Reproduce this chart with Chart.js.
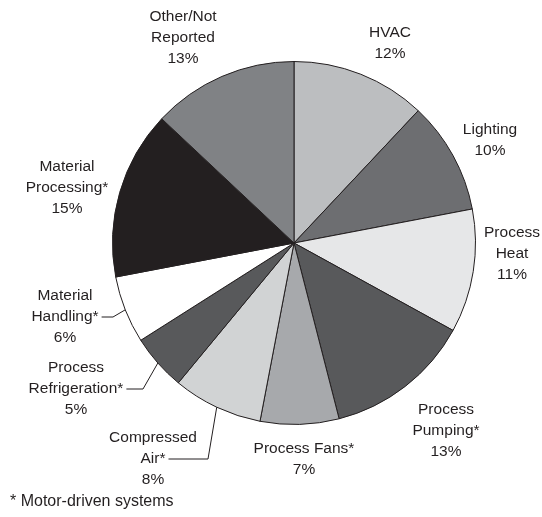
<!DOCTYPE html>
<html>
<head>
<meta charset="utf-8">
<script src="https://cdn.jsdelivr.net/npm/chart.js@4"></script>
<style>
  html, body { margin: 0; padding: 0; background: #fff; }
  #box { width: 542px; height: 517px; }
</style>
</head>
<body>
<div id="box"><canvas id="grafico" width="542" height="517"></canvas></div>
<script>
const categorias = ['HVAC', 'Lighting', 'Process Heat', 'Process Pumping*', 'Process Fans*',
  'Compressed Air*', 'Process Refrigeration*', 'Material Handling*', 'Material Processing*', 'Other/Not Reported'];
const percentuais = [12, 10, 11, 13, 7, 8, 5, 6, 15, 13];
const linhasRotulo = [
  ['HVAC'], ['Lighting'], ['Process', 'Heat'], ['Process', 'Pumping*'], ['Process Fans*'],
  ['Compressed', 'Air*'], ['Process', 'Refrigeration*'], ['Material', 'Handling*'],
  ['Material', 'Processing*'], ['Other/Not', 'Reported']
];
const cores = ['#bcbec0', '#6d6e71', '#e6e7e8', '#58595b', '#a7a9ac',
  '#d1d3d4', '#58595b', '#ffffff', '#231f20', '#808285'];
const nota = '* Motor-driven systems';

// where each label sits (text centre x, first line y) and leader lines
const posRotulo = [
  [390, 33], [490, 130], [512, 233], [446, 410], [304, 449],
  [153, 438], [76, 368], [65, 296], [67, 167], [183, 17]
];
const guias = { 5: [208, 197], 6: [143, 133], 7: [113, 100] };

const rotulosPlugin = {
  id: 'rotulos',
  afterDraw(chart) {
    const ctx = chart.ctx;
    const arcs = chart.getDatasetMeta(0).data;
    ctx.save();
    ctx.fillStyle = '#231f20';
    ctx.font = '15.5px "Liberation Sans", Arial, sans-serif';
    ctx.textAlign = 'center';
    ctx.textBaseline = 'middle';
    const alt = 21;
    categorias.forEach((c, i) => {
      const linhas = linhasRotulo[i].concat([percentuais[i] + '%']);
      const [x, y] = posRotulo[i];
      linhas.forEach((t, k) => ctx.fillText(t, x, y + k * alt));
      if (guias[i]) {
        const a = arcs[i];
        const meio = (a.startAngle + a.endAngle) / 2;
        const ex = a.x + Math.cos(meio) * a.outerRadius;
        const ey = a.y + Math.sin(meio) * a.outerRadius;
        const ly = y + alt;
        const w = ctx.measureText(linhas[1]).width;
        ctx.strokeStyle = '#231f20';
        ctx.lineWidth = 1;
        ctx.beginPath();
        ctx.moveTo(ex, ey);
        ctx.lineTo(guias[i][0], ly);
        ctx.lineTo(x + w / 2 + 3, ly);
        ctx.stroke();
      }
    });
    ctx.textAlign = 'left';
    ctx.font = '16px "Liberation Sans", Arial, sans-serif';
    ctx.fillText(nota, 10, 502);
    ctx.restore();
  }
};

new Chart(document.getElementById('grafico'), {
  type: 'pie',
  data: {
    labels: categorias,
    datasets: [{
      data: percentuais,
      backgroundColor: cores,
      borderColor: '#231f20',
      borderWidth: 1
    }]
  },
  options: {
    responsive: false,
    animation: false,
    layout: { padding: { left: 112, right: 66, top: 61, bottom: 92 } },
    plugins: { legend: { display: false }, tooltip: { enabled: false } }
  },
  plugins: [rotulosPlugin]
});
</script>
</body>
</html>
